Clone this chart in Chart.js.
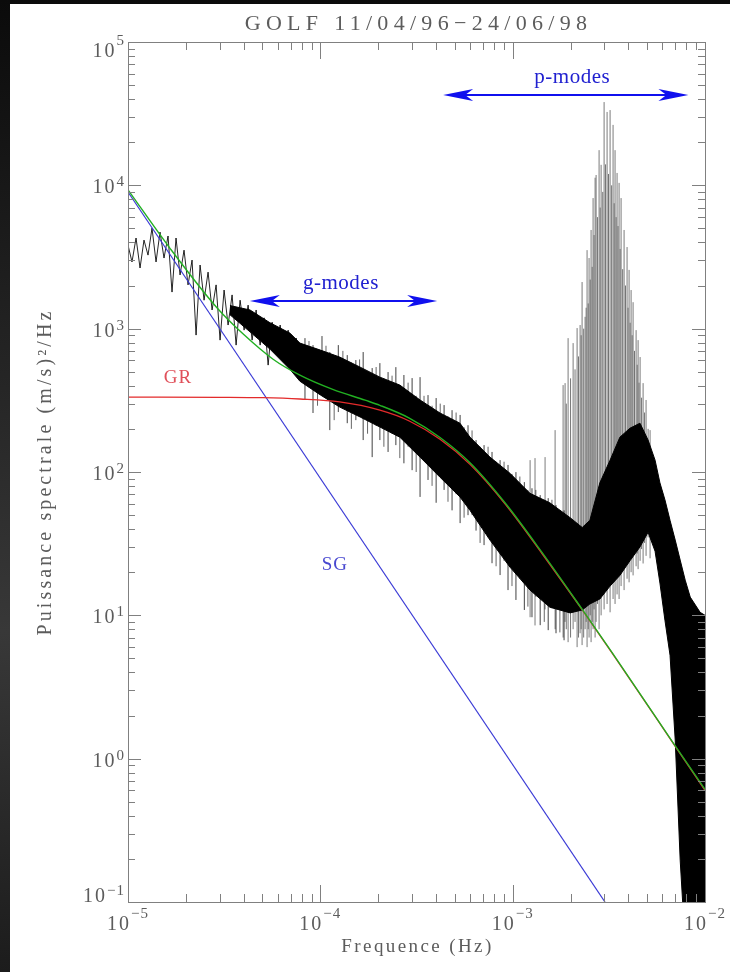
<!DOCTYPE html>
<html>
<head>
<meta charset="utf-8">
<title>GOLF 11/04/96-24/06/98</title>
<script src="https://cdn.jsdelivr.net/npm/chart.js@4.4.0/dist/chart.umd.min.js"></script>
<style>
  html, body { margin: 0; padding: 0; background: #141414; }
  #wrap { width: 730px; height: 972px; }
</style>
</head>
<body>
<div id="wrap"><canvas id="golfChart" width="730" height="972"></canvas></div>
<script>
// GOLF power spectrum, log-log: 1e-5..1e-2 Hz, 1e-1..1e5 (m/s)^2/Hz
const titleText = 'GOLF 11/04/96\u221224/06/98';
const xTitle = 'Frequence (Hz)';
const yTitle = 'Puissance spectrale (m/s)\u00b2/Hz';
const xDecades = [-5, -4, -3, -2];
const yDecades = [-1, 0, 1, 2, 3, 4, 5];

// fitted components: SG, GR, and their sum
const sgFreq = [1e-5, 3.02e-3];
const sgPow = [8980, 0.1];
const grFreq = [1e-5, 3e-5, 5e-5, 7.83e-5, 1.26e-4, 2.04e-4, 2.9e-4, 4.19e-4, 6.0e-4, 9.12e-4, 1.42e-3, 2.3e-3, 3.29e-3, 7.0e-3, 1e-2];
const grPow = [333, 332, 330, 323, 308, 270, 227, 169, 113, 60, 27, 10.9, 5.45, 1.22, 0.6];
const sumFreq = [1e-5, 1.65e-5, 2.9e-5, 3.96e-5, 5.68e-5, 7.83e-5, 1.16e-4, 1.71e-4, 2.04e-4, 2.9e-4, 4.19e-4, 6.0e-4, 9.12e-4, 1.42e-3, 2.3e-3, 3.29e-3, 7.0e-3, 1e-2];
const sumPow = [9300, 3650, 1400, 920, 612, 474, 377, 317, 292, 238, 174, 116, 61, 27.5, 11.0, 5.5, 1.23, 0.61];

// measured spectrum, low-frequency end (single noisy trace)
const lowFreq = [1.000e-5, 1.049e-5, 1.101e-5, 1.155e-5, 1.211e-5, 1.271e-5, 1.333e-5, 1.399e-5, 1.467e-5, 1.539e-5,
  1.615e-5, 1.694e-5, 1.777e-5, 1.865e-5, 1.956e-5, 2.052e-5, 2.153e-5, 2.259e-5, 2.370e-5, 2.486e-5,
  2.608e-5, 2.736e-5, 2.871e-5, 3.011e-5, 3.159e-5, 3.314e-5, 3.477e-5, 3.648e-5, 3.827e-5, 4.015e-5,
  4.212e-5, 4.419e-5, 4.636e-5, 4.863e-5, 5.102e-5, 5.353e-5, 5.616e-5, 5.891e-5, 6.181e-5, 6.484e-5,
  6.802e-5, 7.136e-5, 7.487e-5, 7.854e-5];
const lowPow = [3830, 2920, 4290, 2650, 4150, 3260, 5030, 2920, 4720, 3110,
  4430, 1800, 4290, 2370, 3530, 2020, 3010, 902, 2780, 1580,
  2480, 1350, 2020, 832, 1860, 1060, 1720, 768, 1580, 977,
  1460, 832, 1350, 768, 1190, 557, 1110, 687, 1060, 604,
  977, 557, 860, 438];

// measured spectrum, dense band (upper and lower edge)
const bandFreq = [3.39e-5, 4.31e-5, 5.47e-5, 6.95e-5, 7.83e-5, 1.0e-4, 1.26e-4, 1.61e-4, 2.04e-4, 2.59e-4, 3.30e-4,
  4.19e-4, 5.32e-4, 6.00e-4, 7.62e-4, 9.68e-4, 1.23e-3, 1.56e-3, 1.99e-3, 2.30e-3, 2.52e-3,
  2.84e-3, 3.21e-3, 3.61e-3, 4.07e-3, 4.59e-3, 5.06e-3, 5.50e-3, 5.83e-3, 6.19e-3, 6.58e-3,
  7.00e-3, 7.43e-3, 7.89e-3, 8.38e-3, 9.43e-3, 1.0e-2];
const bandHigh = [1450, 1350, 1100, 931, 793, 709, 634, 539, 459, 404, 318,
  258, 219, 175, 127, 98, 71, 61, 48, 41, 46,
  84, 121, 175, 202, 219, 167, 121, 84, 64, 46,
  33.5, 24.3, 17.6, 13.4, 10.5, 10.0];
const bandLow = [1250, 950, 720, 520, 430, 345, 284, 242, 206, 175, 127,
  92, 67, 54, 33.5, 21.7, 15.0, 11.4, 10.4, 10.9, 12.0,
  13, 16, 19, 24, 30, 38, 28, 16.8, 9.25, 5.27,
  1.35, 0.196, 0.05, 0.05, 0.05, 0.05];

// single bins sticking out of the band
const peakFreq = [8.32e-5, 9.16e-5, 1.02e-4, 1.12e-4, 1.24e-4, 1.38e-4, 1.53e-4, 1.67e-4, 1.86e-4, 2.04e-4,
  2.25e-4, 2.47e-4, 2.72e-4, 3.00e-4, 3.30e-4, 3.63e-4, 4.00e-4, 4.40e-4, 4.84e-4, 5.33e-4,
  5.86e-4, 6.45e-4, 7.10e-4, 7.81e-4, 8.60e-4, 9.46e-4, 1.04e-3, 1.15e-3, 1.26e-3, 1.39e-3,
  1.53e-3, 1.68e-3, 1.85e-3];
const peakHigh = [859, 768, 888, 687, 768, 654, 604, 687, 531, 575,
  498, 539, 475, 452, 459, 344, 328, 293, 270, 250,
  212, 167, 154, 138, 121, 112, 99.8, 85, 77, 69,
  65.7, 58.7, 54];
const peakLow = [318, 258, 344, 196, 262, 219, 230, 167, 127, 167,
  138, 154, 115, 103, 67, 88, 61, 75, 54, 44,
  50, 39, 30.9, 23.1, 19.1, 15.0, 12.8, 10.9, 9.7, 8.54,
  7.88, 7.5, 6.7];
const peak2Freq = [8.73e-5, 9.67e-5, 1.07e-4, 1.18e-4, 1.31e-4, 1.45e-4, 1.60e-4, 1.76e-4, 1.95e-4, 2.14e-4,
  2.36e-4, 2.59e-4, 2.86e-4, 3.15e-4, 3.46e-4, 3.81e-4, 4.20e-4, 4.61e-4, 5.08e-4, 5.59e-4,
  6.15e-4, 6.77e-4, 7.45e-4, 8.20e-4, 9.02e-4, 9.92e-4, 1.09e-3, 1.20e-3, 1.32e-3, 1.46e-3,
  1.60e-3, 1.76e-3];
const peak2High = [820, 700, 760, 640, 700, 580, 610, 500, 540, 450,
  470, 400, 420, 340, 340, 290, 300, 245, 260, 205,
  195, 150, 150, 118, 118, 97, 93, 75, 75, 64,
  64, 54];
const peak2Low = [390, 290, 330, 230, 280, 200, 245, 185, 210, 150,
  185, 125, 150, 100, 120, 80, 92, 62, 70, 48,
  50, 32, 35, 22, 24, 16, 18, 11.5, 13.5, 9,
  11.2, 7.6];

// p-mode comb: tall lines
const pFreq = [1.232e-3, 1.307e-3, 1.474e-3, 1.662e-3, 1.829e-3, 1.873e-3, 1.942e-3, 2.062e-3, 2.163e-3, 2.242e-3,
  2.296e-3, 2.380e-3, 2.437e-3, 2.496e-3, 2.557e-3, 2.619e-3, 2.683e-3, 2.715e-3, 2.814e-3, 2.883e-3,
  2.988e-3, 3.097e-3, 3.210e-3, 3.327e-3, 3.407e-3, 3.490e-3, 3.575e-3, 3.662e-3, 3.796e-3, 3.934e-3,
  4.030e-3, 4.128e-3, 4.228e-3, 4.383e-3, 4.489e-3, 4.598e-3, 4.766e-3, 4.939e-3, 5.182e-3];
const pHigh = [121, 125, 127, 196, 404, 417, 859, 793, 1010, 1060,
  2115, 1210, 3530, 3110, 4880, 8150, 11300, 11800, 17600, 13900,
  38100, 32500, 33500, 26400, 17600, 12200, 10400, 8150, 4880, 3710,
  2570, 1860, 1530, 977, 832, 634, 417, 318, 196];
const pLow = [9.7, 8.5, 11, 8, 7, 9, 6.5, 8, 6, 7.5,
  6.2, 8, 6, 7, 6.5, 8, 7, 9, 8, 10,
  11, 12, 10.5, 13, 12, 14, 13, 16, 15, 18,
  17, 20, 19, 22, 21, 24, 23, 26, 25];
// p-mode comb: shorter lines in between
const qFreq = [1.90e-3, 2.00e-3, 2.11e-3, 2.20e-3, 2.27e-3, 2.34e-3, 2.41e-3, 2.47e-3, 2.53e-3, 2.59e-3,
  2.65e-3, 2.76e-3, 2.85e-3, 2.94e-3, 3.04e-3, 3.15e-3, 3.27e-3, 3.37e-3, 3.45e-3, 3.53e-3,
  3.62e-3, 3.73e-3, 3.86e-3, 3.98e-3, 4.08e-3, 4.18e-3, 4.30e-3, 4.44e-3, 4.54e-3, 4.68e-3,
  4.85e-3, 5.06e-3];
const qHigh = [300, 450, 520, 640, 900, 1000, 1400, 1500, 2200, 2700,
  4500, 6000, 7000, 9000, 14000, 12000, 10000, 7500, 6000, 5200,
  3600, 2600, 2000, 1400, 1100, 900, 700, 560, 420, 330,
  260, 200];
const qLow = [8, 7, 9, 7, 8, 7, 9, 8, 10, 9,
  11, 12, 13, 14, 15, 16, 18, 17, 20, 19,
  22, 21, 24, 23, 26, 25, 28, 27, 30, 29,
  32, 35];

// annotations
const gModes = [4.3e-5, 4.05e-4, 1560];
const pModes = [4.35e-4, 8.2e-3, 42700];
const labelGR = [1.82e-5, 452];
const labelSG = [1.19e-4, 22.4];
const labelG = [1.28e-4, 2050];
const labelP = [2.04e-3, 57000];

function pts(xs, ys) {
  return xs.map((x, i) => ({x: x, y: ys[i]}));
}
function segs(xs, lo, hi) {
  const out = [];
  xs.forEach((x, i) => {
    out.push({x: x, y: lo[i]}, {x: x, y: hi[i]}, {x: x, y: null});
  });
  return out;
}

const serif = '"Liberation Serif", "DejaVu Serif", serif';
const textGrey = '#5c5c5c';

function setFont(ctx, size, spacing) {
  ctx.font = size + 'px ' + serif;
  ctx.letterSpacing = (spacing || 0) + 'px';
}
function tick(ctx, x1, y1, x2, y2) {
  ctx.beginPath();
  ctx.moveTo(x1, y1);
  ctx.lineTo(x2, y2);
  ctx.stroke();
}
function head(ctx, tip, y, dir) {
  ctx.beginPath();
  ctx.moveTo(tip, y);
  ctx.lineTo(tip + dir * 30, y - 6);
  ctx.lineTo(tip + dir * 22, y);
  ctx.lineTo(tip + dir * 30, y + 6);
  ctx.closePath();
  ctx.fill();
}
function expText(e) {
  return e < 0 ? '\u2212' + (-e) : String(e);
}

const decor = {
  id: 'decor',
  beforeDraw(chart) {
    const {ctx, width, height} = chart;
    ctx.save();
    const g = ctx.createLinearGradient(0, 0, 0, height);
    g.addColorStop(0, '#0b0b0b');
    g.addColorStop(0.4, '#262626');
    g.addColorStop(0.65, '#383838');
    g.addColorStop(1, '#1c1c1c');
    ctx.fillStyle = g;
    ctx.fillRect(0, 0, width, height);
    ctx.fillStyle = '#ffffff';
    ctx.fillRect(10, 4, width - 10, height - 4);
    ctx.restore();
  },
  afterDatasetsDraw(chart) {
    const {ctx, chartArea: a, scales: {x, y}} = chart;
    ctx.save();
    // frame and inward ticks
    ctx.strokeStyle = '#808080';
    ctx.lineWidth = 1;
    ctx.strokeRect(a.left + 0.5, a.top + 0.5, a.right - a.left, a.bottom - a.top);
    xDecades.slice(0, -1).forEach(e => {
      for (let m = 1; m < 10; m++) {
        const px = Math.round(x.getPixelForValue(m * Math.pow(10, e))) + 0.5;
        const len = m === 1 ? 17 : 8;
        tick(ctx, px, a.bottom, px, a.bottom - len);
        tick(ctx, px, a.top, px, a.top + len);
      }
    });
    yDecades.slice(0, -1).forEach(e => {
      for (let m = 1; m < 10; m++) {
        const py = Math.round(y.getPixelForValue(m * Math.pow(10, e))) + 0.5;
        const len = m === 1 ? 13 : 7;
        tick(ctx, a.left, py, a.left + len, py);
        tick(ctx, a.right, py, a.right - len, py);
      }
    });

    // mode ranges
    ctx.strokeStyle = '#1010ee';
    ctx.fillStyle = '#1010ee';
    ctx.lineWidth = 2;
    [gModes, pModes].forEach(r => {
      const x1 = x.getPixelForValue(r[0]);
      const x2 = x.getPixelForValue(r[1]);
      const yy = Math.round(y.getPixelForValue(r[2]));
      tick(ctx, x1 + 20, yy, x2 - 20, yy);
      head(ctx, x1, yy, 1);
      head(ctx, x2, yy, -1);
    });

    ctx.textAlign = 'center';
    ctx.textBaseline = 'middle';
    setFont(ctx, 21, 0.5);
    ctx.fillStyle = '#2020d0';
    ctx.fillText('g-modes', x.getPixelForValue(labelG[0]), y.getPixelForValue(labelG[1]));
    ctx.fillText('p-modes', x.getPixelForValue(labelP[0]), y.getPixelForValue(labelP[1]));
    setFont(ctx, 19, 1);
    ctx.fillStyle = '#e0505a';
    ctx.fillText('GR', x.getPixelForValue(labelGR[0]), y.getPixelForValue(labelGR[1]));
    ctx.fillStyle = '#4848d0';
    ctx.fillText('SG', x.getPixelForValue(labelSG[0]), y.getPixelForValue(labelSG[1]));
    ctx.restore();
  },
  afterDraw(chart) {
    const {ctx, chartArea: a, scales: {x, y}} = chart;
    ctx.save();
    ctx.fillStyle = textGrey;
    ctx.textBaseline = 'alphabetic';

    // y tick labels, 10^n, right aligned against the axis
    yDecades.forEach((e, i) => {
      const t = y.getPixelForValue(Math.pow(10, e));
      const ex = expText(e);
      setFont(ctx, 15, 1);
      const wE = ctx.measureText(ex).width;
      setFont(ctx, 20, 2);
      const wB = ctx.measureText('10').width;
      let bBase = t + 8, eBase = t + 1;
      if (i === yDecades.length - 1) { bBase = t + 15; eBase = t + 3; }
      if (i === 0) { bBase = t; eBase = t - 7; }
      ctx.textAlign = 'left';
      ctx.fillText('10', a.left - 3 - wE - wB, bBase);
      setFont(ctx, 15, 1);
      ctx.fillText(ex, a.left - 3 - wE, eBase);
    });

    // x tick labels, centred on the ticks
    xDecades.forEach(e => {
      const t = x.getPixelForValue(Math.pow(10, e));
      const ex = expText(e);
      setFont(ctx, 15, 1);
      const wE = ctx.measureText(ex).width;
      setFont(ctx, 20, 2);
      const wB = ctx.measureText('10').width;
      const start = t - (wB + wE) / 2;
      ctx.textAlign = 'left';
      ctx.fillText('10', start, 930);
      setFont(ctx, 15, 1);
      ctx.fillText(ex, start + wB, 918);
    });

    // titles
    ctx.textAlign = 'center';
    setFont(ctx, 22, 5.3);
    ctx.fillText(titleText, (a.left + a.right) / 2 + 2, 30);
    setFont(ctx, 19, 2.4);
    ctx.fillText(xTitle, (a.left + a.right) / 2 + 1, 952);
    ctx.translate(51, 472);
    ctx.rotate(-Math.PI / 2);
    setFont(ctx, 20, 3.1);
    ctx.fillText(yTitle, 0, 0);
    ctx.restore();
  }
};

const ctx = document.getElementById('golfChart').getContext('2d');
const golfChart = new Chart(ctx, {
  type: 'line',
  data: {
    datasets: [
      {label: 'SG+GR', data: pts(sumFreq, sumPow), borderColor: '#22b022', borderWidth: 1.4, cubicInterpolationMode: 'monotone', order: 0},
      {label: 'GR', data: pts(grFreq, grPow), borderColor: '#e32b2b', borderWidth: 1.3, cubicInterpolationMode: 'monotone', order: 1},
      {label: 'SG', data: pts(sgFreq, sgPow), borderColor: '#3b3bd6', borderWidth: 1.2, order: 2},
      {label: 'bande', data: pts(bandFreq, bandHigh), borderColor: '#000', backgroundColor: '#000', borderWidth: 1, fill: '+1', order: 3},
      {label: 'bande bas', data: pts(bandFreq, bandLow), borderColor: '#000', borderWidth: 1, order: 4},
      {label: 'spectre', data: pts(lowFreq, lowPow), borderColor: 'rgba(0,0,0,0.85)', borderWidth: 1, order: 5},
      {label: 'pics', data: segs(peakFreq, peakLow, peakHigh), borderColor: 'rgba(0,0,0,0.75)', borderWidth: 1, order: 6},
      {label: 'pics (2)', data: segs(peak2Freq, peak2Low, peak2High), borderColor: 'rgba(0,0,0,0.6)', borderWidth: 1, order: 7},
      {label: 'modes p', data: segs(pFreq, pLow, pHigh), borderColor: 'rgba(100,100,100,0.85)', borderWidth: 1, order: 8},
      {label: 'modes p (2)', data: segs(qFreq, qLow, qHigh), borderColor: 'rgba(80,80,80,0.8)', borderWidth: 1, order: 9}
    ]
  },
  options: {
    responsive: false,
    devicePixelRatio: 1,
    animation: false,
    events: [],
    layout: {padding: {left: 128, top: 42, right: 25, bottom: 70}},
    elements: {point: {radius: 0}, line: {tension: 0}},
    plugins: {
      legend: {display: false},
      tooltip: {enabled: false},
      title: {display: false}
    },
    scales: {
      x: {type: 'logarithmic', min: 1e-5, max: 1e-2, display: false},
      y: {type: 'logarithmic', min: 0.1, max: 1e5, display: false}
    }
  },
  plugins: [decor]
});
</script>
</body>
</html>
